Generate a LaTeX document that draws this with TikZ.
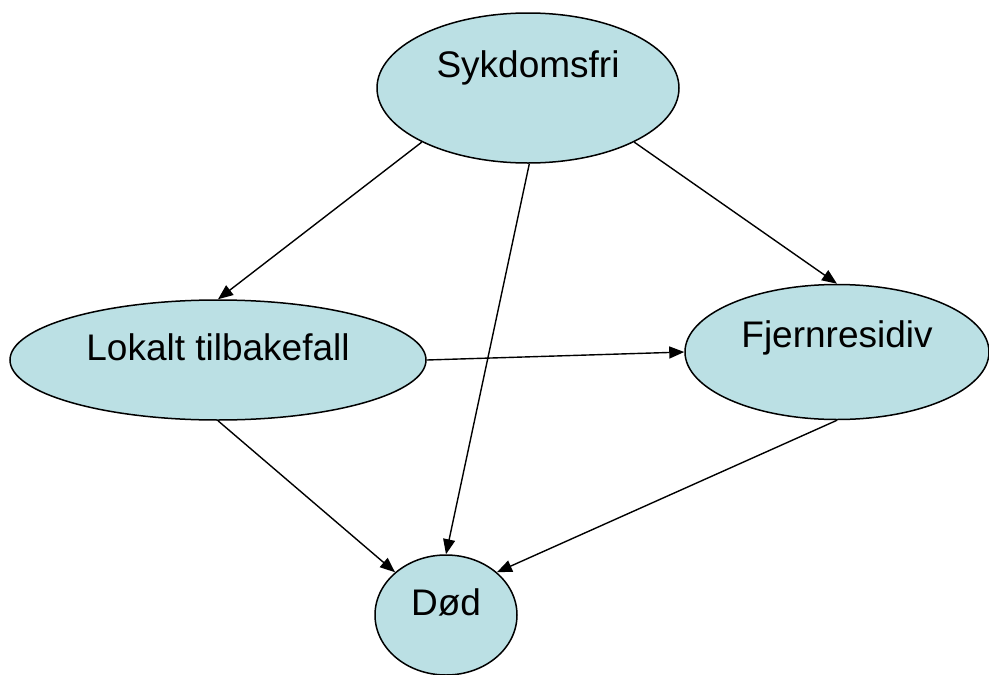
\documentclass[tikz,border=0pt]{standalone}
\usepackage{fontspec}
\setmainfont{Liberation Sans}
\usetikzlibrary{shapes.geometric,arrows.meta}
\definecolor{stateblue}{RGB}{187,224,228}
\tikzset{
  state/.style={ellipse, draw=black, line width=1.5pt, fill=stateblue, inner sep=0pt,
    font=\fontsize{37}{40}\selectfont},
  link/.style={line width=1.4pt, -{Triangle[length=15pt,width=12pt]}}
}
\newcommand{\lifttext}[2]{\raisebox{#1}[0pt][0pt]{#2}}
\begin{document}
\begin{tikzpicture}[x=1pt,y=-1pt]
\useasboundingbox (0,0) rectangle (989,675);
\clip (0,0) rectangle (989,675);
\node[state, minimum width=302pt, minimum height=150pt] (syk) at (528,88) {\lifttext{11pt}{Sykdomsfri}};
\node[state, minimum width=416pt, minimum height=120pt] (lok) at (218,360) {\lifttext{0pt}{Lokalt tilbakefall}};
\node[state, minimum width=304pt, minimum height=135pt] (fje) at (837,352) {\lifttext{5pt}{Fjernresidiv}};
\node[state, minimum width=142pt, minimum height=120pt] (dod) at (446,615) {\lifttext{0pt}{Død}};
\draw[link] (syk.207) -- (lok.90);
\draw[link] (syk.271) -- (dod.90);
\draw[link] (syk.333) -- (fje.90);
\draw[link] (lok.0) -- (fje.180);
\draw[link] (lok.270) -- (dod.140);
\draw[link] (fje.270) -- (dod.40);
\end{tikzpicture}
\end{document}
